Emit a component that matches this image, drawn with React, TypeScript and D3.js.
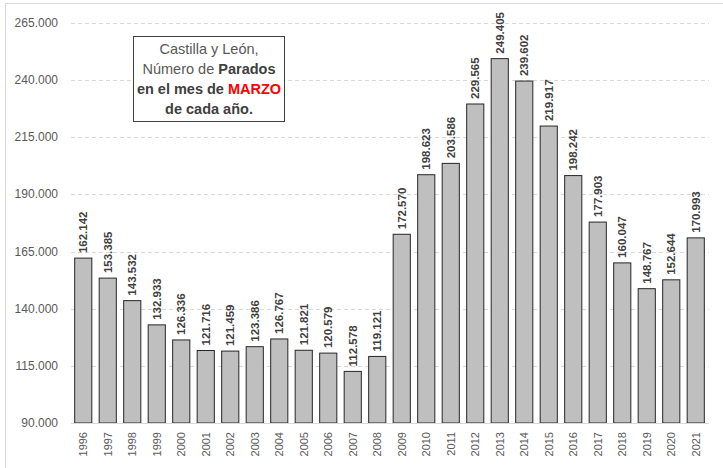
import { useEffect, useRef } from "react";
import * as d3 from "d3";

const years = ["1996","1997","1998","1999","2000","2001","2002","2003","2004","2005","2006","2007","2008","2009","2010","2011","2012","2013","2014","2015","2016","2017","2018","2019","2020","2021"];
const parados = [162142,153385,143532,132933,126336,121716,121459,123386,126767,121821,120579,112578,119121,172570,198623,203586,229565,249405,239602,219917,198242,177903,160047,148767,152644,170993];
const yTicks = [90000,115000,140000,165000,190000,215000,240000,265000];

const fmt = (v: number) => d3.format(",")(v).replace(/,/g, ".");

export default function App() {
  const ref = useRef<SVGSVGElement>(null);

  useEffect(() => {
    const W = 723, H = 468;
    const margin = { top: 23, right: 15, bottom: 45, left: 71 };
    const svg = d3.select(ref.current);
    svg.selectAll("*").remove();
    svg.attr("width", W).attr("height", H);
    const font = "'Liberation Sans', Arial, sans-serif";

    svg.append("rect").attr("width", W).attr("height", H).attr("fill", "#fff");
    // outer chart frame
    svg.append("rect")
      .attr("x", 5.5).attr("y", 3.5)
      .attr("width", W).attr("height", H)
      .attr("fill", "none").attr("stroke", "#d9d9d9");

    const x = d3.scaleBand()
      .domain(years)
      .range([margin.left, 708])
      .paddingInner(0.3)
      .paddingOuter(0.15);

    const y = d3.scaleLinear()
      .domain([90000, 265000])
      .range([423, margin.top]);

    // grid
    svg.append("g").selectAll("line")
      .data(yTicks.filter(t => t > 90000))
      .join("line")
      .attr("x1", margin.left).attr("x2", 709)
      .attr("y1", d => Math.round(y(d)) + 0.5).attr("y2", d => Math.round(y(d)) + 0.5)
      .attr("stroke", "#d9d9d9")
      .attr("stroke-dasharray", "4,3");

    // y labels
    svg.append("g").selectAll("text")
      .data(yTicks)
      .join("text")
      .attr("x", 58)
      .attr("y", d => y(d) + 4)
      .attr("text-anchor", "end")
      .attr("font-family", font)
      .attr("font-size", "12px")
      .attr("fill", "#595959")
      .text(d => fmt(d));

    // bars
    svg.append("g").selectAll("rect")
      .data(parados)
      .join("rect")
      .attr("x", (d, i) => x(years[i])!)
      .attr("y", d => y(d))
      .attr("width", x.bandwidth())
      .attr("height", d => 423 - y(d))
      .attr("fill", "#bfbfbf")
      .attr("stroke", "#262626")
      .attr("stroke-width", 1);

    // baseline
    svg.append("line")
      .attr("x1", margin.left).attr("x2", 709)
      .attr("y1", 423.5).attr("y2", 423.5)
      .attr("stroke", "#d9d9d9");

    // value labels
    svg.append("g").selectAll("text")
      .data(parados)
      .join("text")
      .attr("transform", (d, i) => `translate(${x(years[i])! + x.bandwidth() / 2 + 4},${y(d) - 5}) rotate(-90)`)
      .attr("font-family", font)
      .attr("font-size", "11.5px")
      .attr("font-weight", "bold")
      .attr("fill", "#404040")
      .text(d => fmt(d));

    // year labels
    svg.append("g").selectAll("text")
      .data(years)
      .join("text")
      .attr("transform", d => `translate(${x(d)! + x.bandwidth() / 2 + 4},432) rotate(-90)`)
      .attr("text-anchor", "end")
      .attr("font-family", font)
      .attr("font-size", "11px")
      .attr("fill", "#595959")
      .text(d => d);

    // title box
    svg.append("rect")
      .attr("x", 133.5).attr("y", 36.5)
      .attr("width", 151).attr("height", 85)
      .attr("fill", "#fff")
      .attr("stroke", "#404040");

    const title = svg.append("text")
      .attr("font-family", font)
      .attr("font-size", "14.5px")
      .attr("text-anchor", "middle")
      .attr("fill", "#595959");
    const cx = 209;
    title.append("tspan").attr("x", cx).attr("y", 54).text("Castilla y León,");
    const l2 = title.append("tspan").attr("x", cx).attr("y", 74);
    l2.append("tspan").text("Número de ");
    l2.append("tspan").attr("font-weight", "bold").attr("fill", "#404040").text("Parados");
    const l3 = title.append("tspan").attr("x", cx).attr("y", 94).attr("font-weight", "bold").attr("fill", "#404040");
    l3.append("tspan").text("en el mes de ");
    l3.append("tspan").attr("fill", "#ff0000").text("MARZO");
    title.append("tspan").attr("x", cx).attr("y", 114).attr("font-weight", "bold").attr("fill", "#404040").text("de cada año.");
  }, []);

  return <svg ref={ref} style={{ position: "absolute", left: 0, top: 0 }} />;
}
